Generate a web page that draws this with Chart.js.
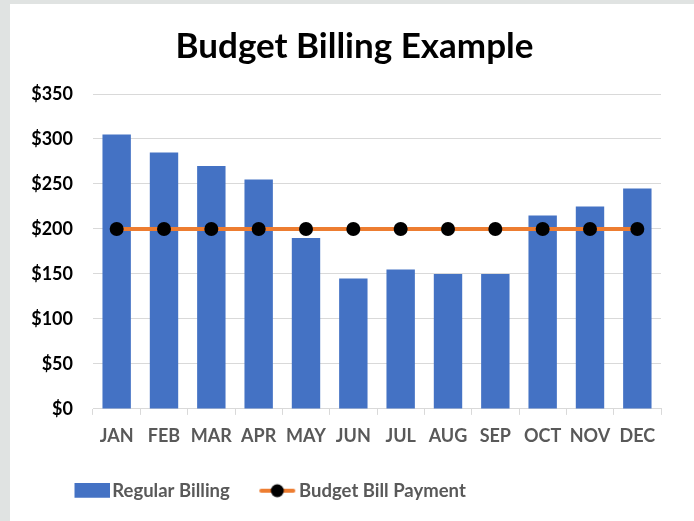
<!DOCTYPE html>
<html>
<head>
<meta charset="utf-8">
<script src="https://cdn.jsdelivr.net/npm/chart.js@4"></script>
<style>
  html, body { margin: 0; padding: 0; background: #e0e3e2; width: 694px; height: 521px; overflow: hidden; }
  #wrap { position: absolute; left: 10px; top: 4px; width: 684px; height: 517px; background: #ffffff; }
  canvas { display: block; }
</style>
</head>
<body>
<div id="wrap"><canvas id="c" width="684" height="517"></canvas></div>
<script>
const months = ["JAN","FEB","MAR","APR","MAY","JUN","JUL","AUG","SEP","OCT","NOV","DEC"];
const regularBilling = [305, 285, 270, 255, 190, 145, 155, 150, 150, 215, 225, 245];
const budgetPayment = [200, 200, 200, 200, 200, 200, 200, 200, 200, 200, 200, 200];
const yTicks = [0, 50, 100, 150, 200, 250, 300, 350];

const FONT = "Lato, 'Open Sans', sans-serif";
const LEG_BOX = 46;

// legend icons: visible part sits at the right end of a wider transparent canvas
function makeBarIcon() {
  const I = LEG_BOX + 13;
  const c = document.createElement('canvas');
  c.width = I; c.height = 16;
  const g = c.getContext('2d');
  g.fillStyle = '#4472C4';
  g.fillRect(I - 35, 0, 35, 15);
  return c;
}
function makeLineIcon() {
  const I = LEG_BOX + 13;
  const c = document.createElement('canvas');
  c.width = I; c.height = 16;
  const g = c.getContext('2d');
  const x0 = I - 37, x1 = I - 1;
  g.strokeStyle = '#ED7D31';
  g.lineWidth = 4;
  g.lineCap = 'round';
  g.beginPath(); g.moveTo(x0 + 2, 8); g.lineTo(x1 - 2, 8); g.stroke();
  g.fillStyle = '#000000';
  g.beginPath(); g.arc((x0 + x1) / 2, 8, 6.5, 0, Math.PI * 2); g.fill();
  return c;
}
const icons = [makeBarIcon(), makeLineIcon()];

// shift title and legend horizontally after layout (reference is not centred on the plot)
const shiftPlugin = {
  id: 'shiftBlocks',
  afterLayout(chart) {
    if (chart.titleBlock) { chart.titleBlock.left += 9; chart.titleBlock.right += 9; }
    if (chart.legend) { chart.legend.left += 13; chart.legend.right += 13; }
  }
};

new Chart(document.getElementById('c'), {
  plugins: [shiftPlugin],
  data: {
    labels: months,
    datasets: [
      {
        type: 'line',
        label: 'Budget Bill Payment',
        data: budgetPayment,
        borderColor: '#ED7D31',
        backgroundColor: '#000000',
        borderWidth: 4,
        pointRadius: 7,
        pointBackgroundColor: '#000000',
        pointBorderColor: '#000000',
        pointBorderWidth: 0,
        order: 0
      },
      {
        type: 'bar',
        label: 'Regular Billing',
        data: regularBilling,
        backgroundColor: '#4472C4',
        barPercentage: 0.6,
        categoryPercentage: 1.0,
        order: 1
      }
    ]
  },
  options: {
    responsive: false,
    animation: false,
    layout: { padding: { left: 20, right: 33, top: 10, bottom: 11 } },
    plugins: {
      title: {
        display: true,
        text: 'Budget Billing Example',
        color: '#000000',
        font: { family: FONT, size: 35, weight: 'bold' },
        padding: { top: 12, bottom: 26 }
      },
      legend: {
        position: 'bottom',
        align: 'start',
        reverse: true,
        labels: {
          usePointStyle: true,
          pointStyleWidth: LEG_BOX,
          padding: 14,
          color: '#595959',
          font: { family: FONT, size: 18.5, weight: 'bold' },
          generateLabels(chart) {
            const ds = chart.data.datasets;
            return ds.map((d, i) => ({
              text: d.label,
              fontColor: '#595959',
              pointStyle: icons[d.type === 'bar' ? 0 : 1],
              datasetIndex: i,
              hidden: false,
              lineWidth: 0
            }));
          }
        }
      },
      tooltip: { enabled: false }
    },
    scales: {
      x: {
        offset: true,
        afterFit(axis) { axis.height += 11; },
        grid: { display: true, offset: true, drawOnChartArea: false, color: '#d9d9d9', tickLength: 6 },
        border: { display: true, color: '#d9d9d9' },
        ticks: { color: '#595959', padding: 10, maxRotation: 0, minRotation: 0, autoSkip: false,
                 font: { family: FONT, size: 18, weight: 'bold' } }
      },
      y: {
        min: 0, max: 350,
        afterBuildTicks(axis) { axis.ticks = yTicks.map(v => ({ value: v })); },
        afterFit(axis) { axis.width = 63; },
        grid: { color: '#d9d9d9', drawTicks: false },
        border: { display: false },
        ticks: {
          color: '#000000',
          padding: 20,
          font: { family: FONT, size: 18, weight: 'bold' },
          callback: v => '$' + v
        }
      }
    }
  }
});
</script>
</body>
</html>
